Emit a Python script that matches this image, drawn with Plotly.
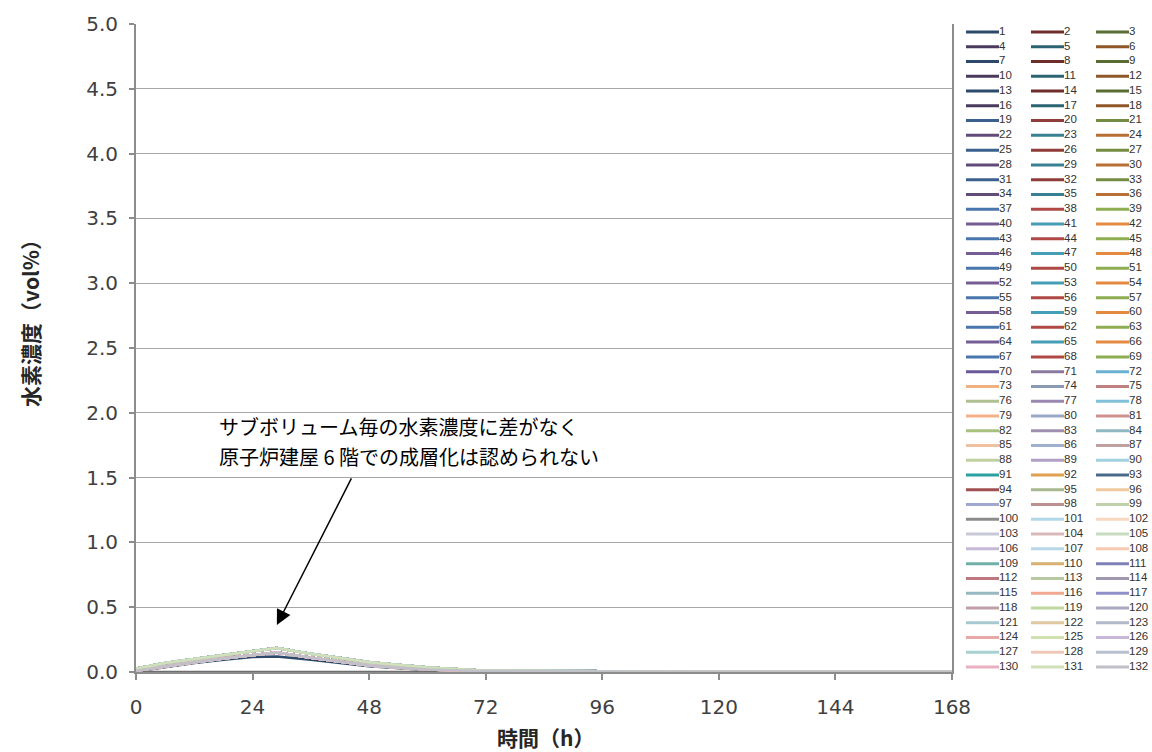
import plotly.graph_objects as go

# ---------------- data ----------------
hours = [0, 6, 12, 18, 24, 29, 36, 48, 60, 72, 96, 120, 144, 168]
conc_upper = [0.025, 0.07, 0.10, 0.13, 0.16, 0.185, 0.14, 0.075, 0.035, 0.01, 0.005, 0.004, 0.004, 0.004]
conc_middle = [0.01, 0.045, 0.075, 0.105, 0.13, 0.15, 0.11, 0.05, 0.02, 0.006, 0.003, 0.002, 0.002, 0.002]
conc_lower = [0.005, 0.04, 0.07, 0.095, 0.115, 0.12, 0.095, 0.045, 0.015, 0.004, 0.002, 0.001, 0.001, 0.001]
hours_zero = [0, 12, 24, 36, 48, 64]
conc_zero = [0, 0, 0, 0, 0, 0]

series_names = [str(i) for i in range(1, 133)]
lower_series = ["1"]
zero_series = ["100"]
upper_series = [str(i) for i in range(3, 133, 2)]

x_ticks = [0, 24, 48, 72, 96, 120, 144, 168]
y_title = "水素濃度（vol%）"
x_title = "時間（h）"
note_line1 = "サブボリューム毎の水素濃度に差がなく"
note_line2 = "原子炉建屋 6 階での成層化は認められない"

# ---------------- styles ----------------
accents = ["#4F81BD", "#C0504D", "#9BBB59", "#8064A2", "#4BACC6", "#F79646"]
late_colors = [
    "#6a5a9a", "#8a7aa0", "#6ab0d0",
    "#f0b080", "#8a9ab0", "#c08080",
    "#b0c090", "#9a88b0", "#80c0d8",
    "#f4b088", "#9aa8c8", "#d09090",
    "#a8c080", "#a090b0", "#90b8c0",
    "#f0c0a0", "#a0b0d0", "#c0a0a0",
    "#c0d0a0", "#b0a0c8", "#a0d0e0",
    "#2aa0a0", "#e0a050", "#4a6a8a",
    "#a05050", "#a8b890", "#f0c8a0",
    "#a0a8d0", "#c09090", "#c0d0a8",
    "#8c8c8c", "#b0d8e8", "#f8d8c0",
    "#c8c8d8", "#d8b8b8", "#c8dcc0",
    "#c8b8d8", "#b8d8e8", "#f8c8b0",
    "#70b0a8", "#d8b070", "#8080b8",
    "#c07880", "#b8c8a0", "#a098b0",
    "#98b8c0", "#f0a890", "#9090c8",
    "#c0a0a8", "#c0d8a0", "#a8a8c0",
    "#a8c8d0", "#e0c8a0", "#b0b8c8",
    "#e8a8a8", "#d0e0b0", "#c8b8d8",
    "#a8d0d0", "#f0c8b8", "#b8c0d0",
    "#e8b0c0", "#d0e0b8", "#c0c0c8",
]


def mix(hexcol, f):
    r, g, b = int(hexcol[1:3], 16), int(hexcol[3:5], 16), int(hexcol[5:7], 16)
    if f < 0:
        k = 1 + f
        r, g, b = r * k, g * k, b * k
    else:
        r, g, b = r + (255 - r) * f, g + (255 - g) * f, b + (255 - b) * f
    return "#%02x%02x%02x" % (int(r), int(g), int(b))


def series_color(n):
    if n >= 70:
        return late_colors[n - 70]
    if n <= 18:
        return mix(accents[(n - 1) % 6], -0.42)
    if n <= 36:
        return mix(accents[(n - 1) % 6], -0.25)
    return mix(accents[(n - 1) % 6], -0.08)


fig = go.Figure()

for name in series_names:
    n = int(name)
    col = series_color(n)
    if name in zero_series:
        xs, ys = hours_zero, conc_zero
        col = "#6e6e6e"
    elif name in lower_series:
        xs, ys = hours, conc_lower
    elif name in upper_series:
        xs, ys = hours, conc_upper
    else:
        xs, ys = hours, conc_middle
    fig.add_trace(go.Scatter(x=xs, y=ys, mode="lines", name=name,
                             line=dict(color=col, width=2.5),
                             showlegend=False, hoverinfo="skip",
                             xaxis="x", yaxis="y"))

# custom legend (3 columns, filled row by row) on an auxiliary axis
for i, name in enumerate(series_names):
    n = int(name)
    row, c = divmod(i, 3)
    x0 = 6 + 65 * c
    fig.add_trace(go.Scatter(x=[x0, x0 + 33], y=[row, row], mode="lines+text",
                             text=["", name], textposition="middle right",
                             textfont=dict(family="Liberation Sans", size=11.5, color="#333333"),
                             line=dict(color=series_color(n), width=3),
                             showlegend=False, hoverinfo="skip",
                             xaxis="x2", yaxis="y2", cliponaxis=False))

plot_w = 1152 - 136
fig.update_layout(
    width=1152, height=752, autosize=False,
    margin=dict(l=136, r=0, t=24, b=80, autoexpand=False),
    paper_bgcolor="white", plot_bgcolor="white",
    xaxis=dict(domain=[0, 816 / plot_w], range=[0, 168], tickvals=x_ticks,
               showgrid=False, zeroline=False, layer="below traces",
               showline=True, linecolor="#8c8c8c", linewidth=2,
               ticks="outside", ticklen=6, tickcolor="#8c8c8c", tickwidth=1.5,
               ticklabelstandoff=10,
               tickfont=dict(family="DejaVu Sans", size=20, color="#404040")),
    yaxis=dict(range=[0, 5], dtick=0.5, tickformat=".1f",
               showgrid=True, gridcolor="#a6a6a6", gridwidth=1, zeroline=False,
               showline=True, linecolor="#8c8c8c", linewidth=2, mirror=True,
               ticks="outside", ticklen=5, tickcolor="#8c8c8c", tickwidth=1.5,
               ticklabelstandoff=7,
               tickfont=dict(family="DejaVu Sans", size=20, color="#404040")),
    xaxis2=dict(domain=[(960 - 136) / plot_w, 1], range=[0, 192], visible=False,
                fixedrange=True, anchor="y2"),
    yaxis2=dict(domain=[0, 1], range=[43 + 5 / 14.77, -8 / 14.77], visible=False,
                anchor="x2", fixedrange=True),
    showlegend=False,
)

# axis titles (placed as in the reference)
fig.add_annotation(x=(30 - 136) / plot_w, y=(672 - 318) / 648, xref="paper", yref="paper",
                   text=y_title, textangle=-90, showarrow=False,
                   xanchor="center", yanchor="middle",
                   font=dict(family="Noto Sans CJK JP", size=21, color="#262626", weight="bold"))
fig.add_annotation(x=(545 - 136) / plot_w, y=(672 - 737) / 648, xref="paper", yref="paper",
                   text=x_title, showarrow=False, xanchor="center", yanchor="middle",
                   font=dict(family="Noto Sans CJK JP", size=21, color="#262626", weight="bold"))

# annotation text (two lines) and arrow
fig.add_annotation(x=16.6, y=1.894, xref="x", yref="y", text=note_line1, showarrow=False,
                   xanchor="left", yanchor="middle", align="left",
                   font=dict(family="Noto Sans CJK JP", size=20, color="black"))
fig.add_annotation(x=16.6, y=1.663, xref="x", yref="y", text=note_line2, showarrow=False,
                   xanchor="left", yanchor="middle", align="left",
                   font=dict(family="Noto Sans CJK JP", size=20, color="black"))
fig.add_annotation(x=29, y=0.363, xref="x", yref="y", ax=44.5, ay=1.505,
                   axref="x", ayref="y", text="", showarrow=True,
                   arrowhead=2, arrowsize=2, arrowwidth=1.5, arrowcolor="black")

fig.write_html("out.html", config={"responsive": False, "displayModeBar": False},
               post_script="document.body.style.margin='0';"
                           "document.body.style.overflow='hidden';"
                           "document.documentElement.style.overflow='hidden';")
